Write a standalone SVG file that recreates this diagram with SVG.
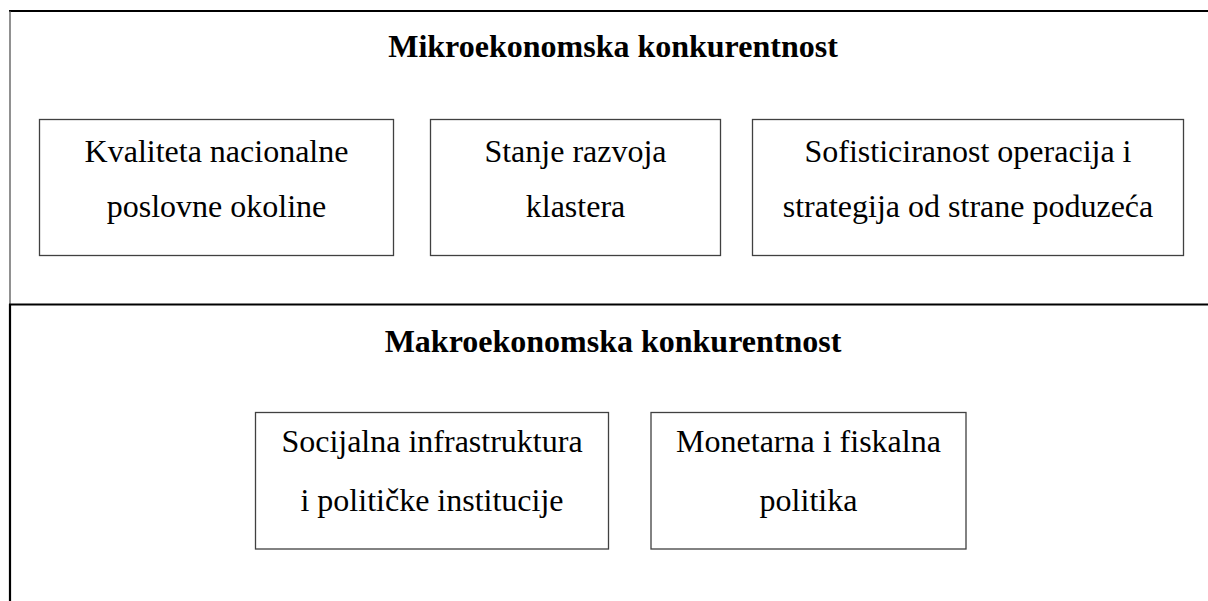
<svg xmlns="http://www.w3.org/2000/svg" width="1208" height="601" viewBox="0 0 1208 601">
<style>
.box{fill:#fff;stroke:#404040;stroke-width:1.3}
.t{font-family:"Liberation Serif","Times New Roman",serif;font-size:32px;fill:#000;text-anchor:middle}
.h{font-family:"Liberation Serif","Times New Roman",serif;font-size:32px;font-weight:bold;fill:#000;text-anchor:middle}
.frame{stroke:#000;stroke-width:2.2;fill:none}
</style>
<rect width="1208" height="601" fill="#fff"/>
<g id="frame">
<line class="frame" x1="9" y1="11" x2="1208" y2="11"/>
<line x1="10" y1="11" x2="10" y2="304" stroke="#555" stroke-width="1.3"/>
<line class="frame" x1="9" y1="304.5" x2="1208" y2="304.5"/>
<line class="frame" x1="10" y1="304" x2="10" y2="601"/>
</g>
<g id="title-mikro"><text class="h" x="613" y="57">Mikroekonomska konkurentnost</text></g>
<g id="title-makro"><text class="h" x="613" y="352">Makroekonomska konkurentnost</text></g>
<g id="n1"><rect class="box" x="39.5" y="119.5" width="354" height="136"/>
<text class="t" x="216.5" y="162">Kvaliteta nacionalne</text><text class="t" x="216.5" y="217">poslovne okoline</text></g>
<g id="n2"><rect class="box" x="430.5" y="119.5" width="290" height="136"/>
<text class="t" x="575.5" y="162">Stanje razvoja</text><text class="t" x="575.5" y="217">klastera</text></g>
<g id="n3"><rect class="box" x="752.5" y="119.5" width="431" height="136"/>
<text class="t" x="968" y="162">Sofisticiranost operacija i</text><text class="t" x="968" y="217">strategija od strane poduzeća</text></g>
<g id="n4"><rect class="box" x="255.5" y="412.5" width="353" height="136.5"/>
<text class="t" x="432" y="452">Socijalna infrastruktura</text><text class="t" x="432" y="511">i političke institucije</text></g>
<g id="n5"><rect class="box" x="651" y="412.5" width="315" height="136.5"/>
<text class="t" x="808.5" y="452">Monetarna i fiskalna</text><text class="t" x="808.5" y="511">politika</text></g>
<g id="connectors"></g>
</svg>
